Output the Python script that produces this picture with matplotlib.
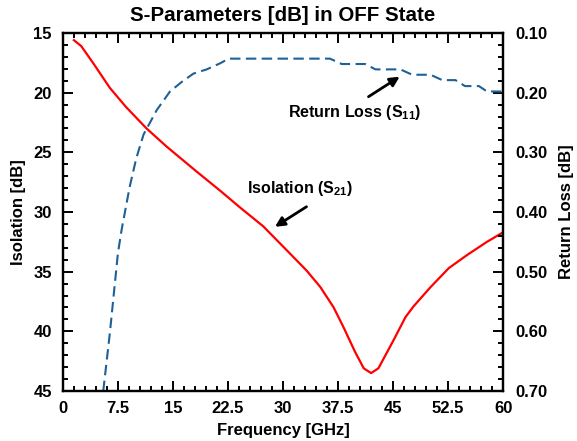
import matplotlib
matplotlib.use("Agg")
import matplotlib.pyplot as plt
from matplotlib.ticker import MultipleLocator, FormatStrFormatter

plt.rcParams['font.family'] = ['Liberation Sans', 'DejaVu Sans']
plt.rcParams['font.weight'] = 'bold'
plt.rcParams['mathtext.fontset'] = 'custom'
plt.rcParams['mathtext.rm'] = 'Liberation Sans:bold'
plt.rcParams['mathtext.it'] = 'Liberation Sans:bold'
plt.rcParams['mathtext.bf'] = 'Liberation Sans:bold'
plt.rcParams['mathtext.default'] = 'bf'

# Isolation (S21) [dB]
iso_freq = [1.5, 2.5, 4.1, 6.4, 8.6, 11.4, 14.1, 18.2, 21.4, 24.1, 27.3, 30.5, 33.2,
            35.1, 36.9, 38.2, 39.8, 41.0, 42.0, 43.0, 45.1, 46.7, 47.8, 50.1, 52.6, 55.1, 57.8, 60.0]
iso_db = [15.6, 16.1, 17.5, 19.6, 21.2, 23.0, 24.5, 26.6, 28.2, 29.6, 31.2, 33.2, 34.9,
          36.3, 38.0, 39.6, 41.7, 43.1, 43.5, 43.1, 40.7, 38.8, 37.9, 36.3, 34.7, 33.6, 32.5, 31.7]

# Return loss (S11) [dB]
rl_freq = [5.5, 6.4, 7.5, 8.0, 9.1, 10.0, 11.0, 12.8, 14.6, 16.2, 17.8, 19.6, 21.4, 22.6,
           36.4, 38.0, 41.2, 42.6, 46.0, 47.6, 50.1, 51.7, 53.5, 54.8, 56.7, 57.8, 60.0]
rl_db = [0.70, 0.603, 0.469, 0.43, 0.358, 0.31, 0.27, 0.229, 0.198, 0.182, 0.168, 0.161, 0.151, 0.143,
         0.143, 0.152, 0.152, 0.161, 0.161, 0.170, 0.170, 0.179, 0.179, 0.189, 0.189, 0.198, 0.198]

x_ticks = [0, 7.5, 15, 22.5, 30, 37.5, 45, 52.5, 60]
x_tick_labels = ['0', '7.5', '15', '22.5', '30', '37.5', '45', '52.5', '60']

fig = plt.figure(figsize=(5.77, 4.41), dpi=100)
ax = fig.add_axes([0.109, 0.1134, 0.763, 0.8118])
ax2 = ax.twinx()

ax.plot(iso_freq, iso_db, color='#ff0000', lw=1.6)
ax2.plot(rl_freq, rl_db, color='#1f6096', lw=1.5, dashes=(5, 2.6))

ax.set_xlim(0, 60)
ax.set_ylim(45, 15)
ax2.set_ylim(0.70, 0.10)

ax.set_xticks(x_ticks)
ax.set_xticklabels(x_tick_labels)
ax.xaxis.set_minor_locator(MultipleLocator(1.5))
ax.yaxis.set_major_locator(MultipleLocator(5))
ax.yaxis.set_minor_locator(MultipleLocator(1))
ax2.yaxis.set_major_locator(MultipleLocator(0.1))
ax2.yaxis.set_minor_locator(MultipleLocator(0.02))
ax2.yaxis.set_major_formatter(FormatStrFormatter('%.2f'))

for a in (ax, ax2):
    for s in a.spines.values():
        s.set_linewidth(1.6)
ax.tick_params(which='both', direction='in', top=True, right=False, width=1.4, labelsize=12)
ax.tick_params(axis='x', pad=7)
ax.tick_params(axis='y', pad=8)
ax.tick_params(which='major', length=7)
ax.tick_params(which='minor', length=3.5)
ax2.tick_params(which='both', direction='in', width=1.4, labelsize=12, pad=9)
ax2.tick_params(which='major', length=7)
ax2.tick_params(which='minor', length=3.5)

ax.set_xlabel('Frequency [GHz]', fontsize=12, fontweight='bold', labelpad=5)
ax.set_ylabel('Isolation [dB]', fontsize=12, fontweight='bold', labelpad=5)
ax2.set_ylabel('Return Loss [dB]', fontsize=12, fontweight='bold', labelpad=8)
ax.set_title('S-Parameters [dB] in OFF State', fontsize=14.8, fontweight='bold', pad=8.5)

arrow = dict(arrowstyle='-|>', color='black', lw=2, mutation_scale=14, shrinkA=0, shrinkB=0)
ax2.annotate('', xy=(28.9, 31.24), xycoords=ax.transData,
             xytext=(33.2, 29.56), textcoords=ax.transData, arrowprops=arrow)
ax2.text(32.3, 28.0, r'Isolation (S$_{21}$)', transform=ax.transData,
         ha='center', va='center', fontsize=11.5, fontweight='bold')
ax2.annotate('', xy=(45.9, 0.1732), xytext=(41.65, 0.2068), arrowprops=arrow)
ax2.text(39.7, 0.234, r'Return Loss (S$_{11}$)', ha='center', va='center',
         fontsize=11.5, fontweight='bold')

fig.savefig('out.png', dpi=100)
